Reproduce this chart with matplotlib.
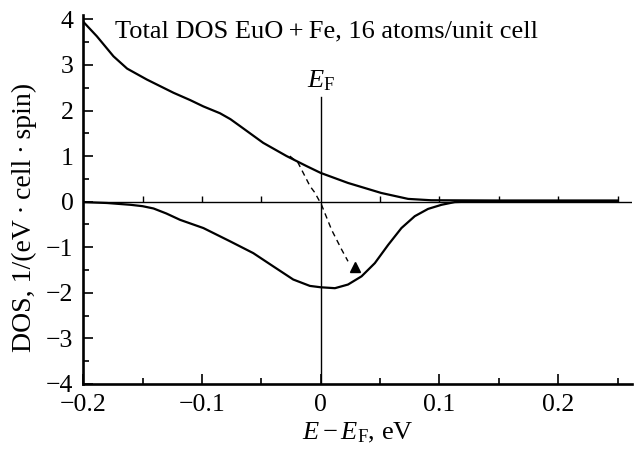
import matplotlib
matplotlib.use('Agg')
import matplotlib.pyplot as plt
from matplotlib.ticker import MultipleLocator

plt.rcParams['font.family'] = 'Liberation Serif'
plt.rcParams['mathtext.fontset'] = 'custom'
plt.rcParams['mathtext.rm'] = 'Liberation Serif'
plt.rcParams['mathtext.it'] = 'Liberation Serif:italic'

# spin up DOS
e_up = [-0.2, -0.1885, -0.1745, -0.163, -0.1464, -0.124, -0.11, -0.0988, -0.0848, -0.076,
        -0.068, -0.0484, -0.0287, -0.0119, 0.0, 0.023, 0.051, 0.0736, 0.093, 0.15, 0.2, 0.25]
dos_up = [3.95, 3.63, 3.19, 2.92, 2.68, 2.39, 2.23, 2.09, 1.94, 1.81,
          1.66, 1.29, 1.0, 0.78, 0.63, 0.41, 0.19, 0.06, 0.03, 0.025, 0.025, 0.025]

# spin down DOS
e_dn = [-0.2, -0.18, -0.16, -0.15, -0.1408, -0.13, -0.1184, -0.0988, -0.0764, -0.0568, -0.04,
        -0.0231, -0.0091, 0.0, 0.012, 0.023, 0.0344, 0.0456, 0.0568, 0.068, 0.0792,
        0.0904, 0.1017, 0.1129, 0.125, 0.25]
dos_dn = [-0.01, -0.03, -0.07, -0.10, -0.15, -0.26, -0.40, -0.58, -0.87, -1.13, -1.42,
          -1.71, -1.85, -1.88, -1.90, -1.82, -1.64, -1.35, -0.95, -0.58, -0.32,
          -0.16, -0.07, -0.01, 0.0, 0.0]

# dashed transition path and its head
e_arr = [-0.026, -0.019, -0.009, -0.005, 0.0007, 0.0092, 0.0176, 0.023]
dos_arr = [1.0, 0.85, 0.34, 0.2, -0.07, -0.62, -1.05, -1.31]
e_head, dos_head = 0.0288, -1.43

fs = 19

fig = plt.figure(figsize=(6.35, 4.5), dpi=100)
ax = fig.add_axes([0.131, 0.147, 0.864, 0.82])

ax.plot(e_up, dos_up, color='black', lw=1.6)
ax.plot(e_dn, dos_dn, color='black', lw=1.6)
ax.plot(e_arr, dos_arr, color='black', lw=1.0, ls=(0, (4, 3)))
ax.plot([e_head], [dos_head], marker='^', color='black', ms=7, ls='none')

ax.axhline(0, color='black', lw=1.0)
ax.plot([0, 0], [-4, 2.29], color='black', lw=1.0)
ax.text(0, 2.5, r'$E_\mathrm{F}$', ha='center', va='baseline', fontsize=fs)
ax.text(-0.173, 3.6, 'Total DOS EuO\u2009+\u2009Fe, 16 atoms/unit cell', ha='left',
        va='baseline', fontsize=fs)

ax.set_xlim(-0.2, 0.262)
ax.set_ylim(-4, 4.1)
ax.spines['top'].set_visible(False)
ax.spines['right'].set_visible(False)
ax.spines['left'].set_linewidth(1.9)
ax.spines['bottom'].set_linewidth(1.9)

ax.xaxis.set_minor_locator(MultipleLocator(0.05))
ax.yaxis.set_minor_locator(MultipleLocator(0.5))
ax.set_xticks([-0.2, -0.1, 0, 0.1, 0.2])
ax.set_xticklabels(['\u22120.2', '\u22120.1', '0', '0.1', '0.2'])
ax.set_yticks([-4, -3, -2, -1, 0, 1, 2, 3, 4])
ax.set_yticklabels(['\u22124', '\u22123', '\u22122', '\u22121', '0', '1', '2', '3', '4'])
ax.tick_params(which='major', direction='in', length=7, width=1.2, labelsize=18.5, pad=7)
ax.tick_params(which='minor', direction='in', length=4.5, width=1.2)

# ticks along the zero line
sec = ax.secondary_xaxis(4 / 8.1)
sec.spines['top'].set_visible(False)
sec.spines['bottom'].set_visible(False)
sec.set_xticks([-0.15, -0.1, -0.05, 0.05, 0.1, 0.15, 0.2, 0.25])
sec.tick_params(axis='x', direction='out', length=4.5, width=1.0, labeltop=False,
                labelbottom=False, top=True, bottom=False)
sec.xaxis.set_minor_locator(MultipleLocator(1))

ax.set_xlabel(r'$E-E_\mathrm{F}$, eV', fontsize=fs, labelpad=4)
ax.set_ylabel('DOS, 1/(eV\u2009\u00b7\u2009cell\u2009\u00b7\u2009spin)', fontsize=20)
ax.yaxis.set_label_coords(-0.085, 0.45)

fig.savefig('out.png', dpi=100)
